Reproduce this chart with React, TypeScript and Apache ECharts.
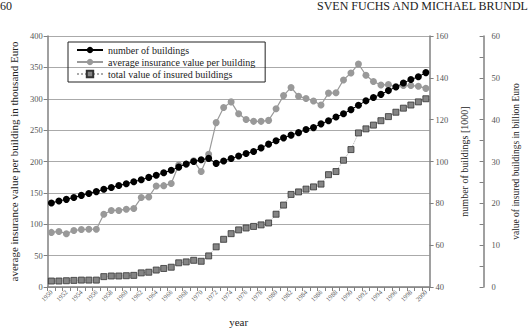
import React, { useEffect, useRef } from "react";
import * as echarts from "echarts";

const years = ["1950","1951","1952","1953","1954","1955","1956","1957","1958","1959","1960","1961","1962","1963","1964","1965","1966","1967","1968","1969","1970","1971","1972","1973","1974","1975","1976","1977","1978","1979","1980","1981","1982","1983","1984","1985","1986","1987","1988","1989","1990","1991","1992","1993","1994","1995","1996","1997","1998","1999","2000"];

// number of buildings [1000]
const numberOfBuildings = [80.2,81.1,81.9,82.8,83.8,84.7,85.6,86.7,87.6,88.5,89.4,90.3,91.3,92.4,93.4,94.6,95.8,97.3,98.8,100.0,100.8,101.5,99.1,100.2,101.4,102.6,103.8,104.8,106.5,108.3,109.9,111.3,112.6,113.8,115.3,116.2,118.0,119.5,121.3,122.8,124.8,126.9,129.0,130.6,132.1,133.9,135.6,137.5,139.2,140.5,142.5];

// average insurance value per building [thousand Euro]
const avgValue = [87,88.5,85,90,91.5,92,92,116,122,122,124,125,142.5,143.5,161,161.5,165,194.5,195.5,201,184,211.5,262,286,295,276,267,264,264,265.5,284,305,318,304,300.5,296.5,290,309,309.5,330,341,355.5,337.5,327.5,322,322.5,319.5,321,321,320,316.5];

// total value of insured buildings [billion Euro]
const totalValue = [1.43,1.43,1.5,1.58,1.65,1.65,1.65,2.48,2.63,2.63,2.7,2.78,3.38,3.53,4.05,4.43,4.73,5.78,6.0,6.38,6.15,7.43,9.6,11.4,12.75,13.65,14.1,14.48,14.85,15.3,17.4,19.58,22.13,22.73,23.4,23.93,24.6,26.85,27.6,30.3,32.85,36.83,37.8,38.7,39.75,40.73,41.78,42.75,43.5,44.25,45.0];

const leftTicks = { min: 0, max: 400, interval: 50 };
const midTicks = { min: 40, max: 160, interval: 20 };
const rightTicks = { min: 0, max: 60, interval: 10 };

const FONT = "Liberation Serif";

export default function App() {
  const ref = useRef<HTMLDivElement>(null);
  useEffect(() => {
    if (!ref.current) return;
    const chart = echarts.init(ref.current, null, { renderer: "svg" });
    const axisGray = "#808080";
    chart.setOption({
      animation: false,
      backgroundColor: "#ffffff",
      textStyle: { fontFamily: FONT },
      grid: { left: 37, right: 88, top: 36, bottom: 48, containLabel: false },
      graphic: [
        { type: "text", left: 0, top: 0, style: { text: "60", font: `12px "${FONT}"`, fill: "#222" } },
        { type: "text", right: 0, top: 0, style: { text: "SVEN FUCHS AND MICHAEL BRUNDL", font: `12px "${FONT}"`, fill: "#222" } },
      ],
      legend: {
        orient: "vertical",
        left: 68,
        top: 42,
        padding: [3, 10, 3, 8],
        itemGap: 2,
        itemWidth: 26,
        itemHeight: 8,
        borderColor: "#222",
        borderWidth: 1,
        textStyle: { fontFamily: FONT, fontSize: 10, color: "#222" },
        data: [
          "number of buildings",
          "average insurance value per building",
          "total value of insured buildings",
        ],
      },
      xAxis: {
        type: "category",
        data: years,
        boundaryGap: true,
        name: "year",
        nameLocation: "middle",
        nameGap: 29,
        nameTextStyle: { fontFamily: FONT, fontSize: 11, color: "#222" },
        axisLine: { lineStyle: { color: axisGray, width: 1.5 } },
        axisTick: { show: true, interval: 0, length: 4, lineStyle: { color: axisGray } },
        axisLabel: { interval: 1, rotate: 45, fontSize: 6.5, color: "#555", fontFamily: FONT, margin: 4 },
      },
      yAxis: [
        {
          type: "value",
          position: "left",
          ...leftTicks,
          name: "average insurance value per building in thousand Euro",
          nameLocation: "middle",
          nameRotate: 90,
          nameGap: 25,
          nameTextStyle: { fontFamily: FONT, fontSize: 11, color: "#222" },
          axisLine: { show: true, lineStyle: { color: axisGray, width: 1.5 } },
          axisTick: { show: true, length: 4, lineStyle: { color: axisGray } },
          axisLabel: { fontSize: 8.5, color: "#555", fontFamily: FONT, margin: 5 },
          splitLine: { show: true, lineStyle: { color: "#aaaaaa", width: 1 } },
        },
        {
          type: "value",
          position: "right",
          ...midTicks,
          name: "number of buildings [1000]",
          nameLocation: "middle",
          nameRotate: 90,
          nameGap: 25,
          nameTextStyle: { fontFamily: FONT, fontSize: 10, color: "#222" },
          axisLine: { show: true, lineStyle: { color: axisGray, width: 1.5 } },
          axisTick: { show: true, length: 4, lineStyle: { color: axisGray } },
          axisLabel: { fontSize: 8.5, color: "#555", fontFamily: FONT, margin: 6 },
          splitLine: { show: false },
        },
        {
          type: "value",
          position: "right",
          offset: 54,
          ...rightTicks,
          name: "value of insured buildings in billion Euro",
          nameLocation: "middle",
          nameRotate: 90,
          nameGap: 26,
          nameTextStyle: { fontFamily: FONT, fontSize: 9.5, color: "#222" },
          axisLine: { show: true, lineStyle: { color: axisGray, width: 1.5 } },
          axisTick: { show: true, inside: true, length: 4, lineStyle: { color: axisGray } },
          minorTick: { show: true, splitNumber: 2, length: 4, lineStyle: { color: axisGray } },
          axisLabel: { fontSize: 8.5, color: "#555", fontFamily: FONT, margin: 8 },
          splitLine: { show: false },
        },
      ],
      series: [
        {
          name: "number of buildings",
          type: "line",
          yAxisIndex: 1,
          data: numberOfBuildings,
          symbol: "circle",
          symbolSize: 7,
          showAllSymbol: true,
          z: 4,
          lineStyle: { color: "#000", width: 1 },
          itemStyle: { color: "#000" },
        },
        {
          name: "average insurance value per building",
          type: "line",
          yAxisIndex: 0,
          data: avgValue,
          symbol: "circle",
          symbolSize: 7,
          showAllSymbol: true,
          z: 3,
          lineStyle: { color: "#9a9a9a", width: 1.2 },
          itemStyle: { color: "#999999" },
        },
        {
          name: "total value of insured buildings",
          type: "line",
          yAxisIndex: 2,
          data: totalValue,
          symbol: "rect",
          symbolSize: 6,
          showAllSymbol: true,
          z: 2,
          lineStyle: { color: "#aaaaaa", width: 1, type: "dotted" },
          itemStyle: { color: "#858585", borderColor: "#333", borderWidth: 0.8 },
        },
      ],
    });
    return () => chart.dispose();
  }, []);
  return <div ref={ref} style={{ width: 529, height: 335, position: "absolute", left: 0, top: 0 }} />;
}
